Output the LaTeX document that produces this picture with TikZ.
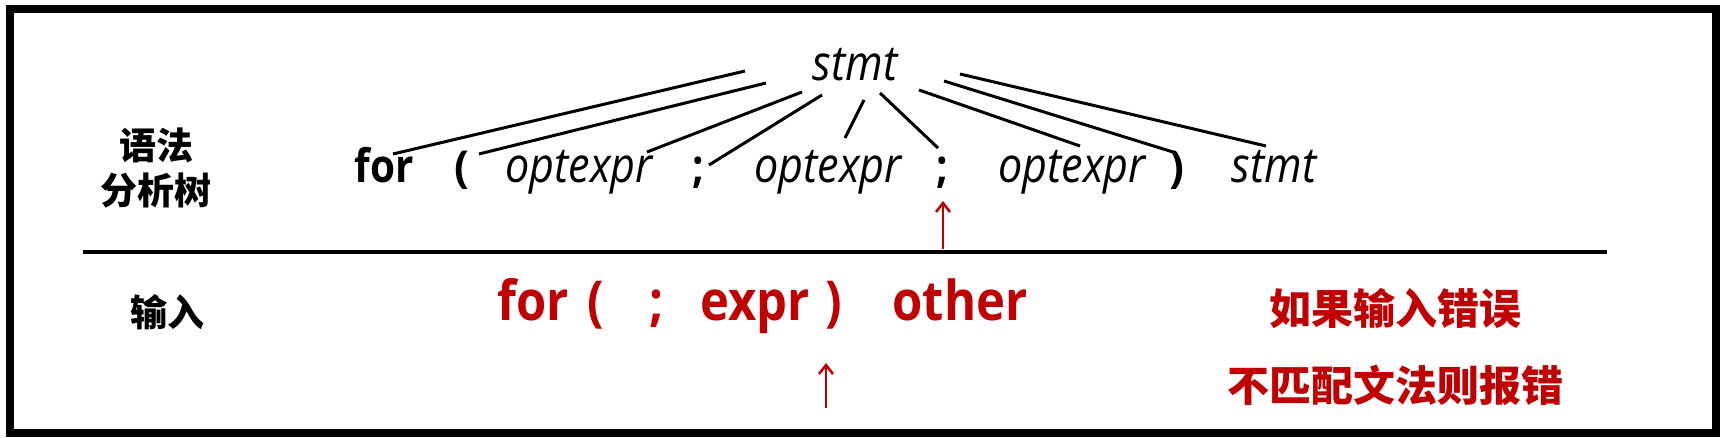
\documentclass[tikz,border=0pt]{standalone}
\usepackage{fontspec}
\setmainfont{Open Sans}
\newfontfamily\narrowfam{Open Sans}[FakeStretch=0.88]
\newfontfamily\narrowkw{Open Sans}[FakeStretch=0.88]
\newfontfamily\narrowred{Open Sans}[FakeStretch=0.89]
\newfontfamily\cjk{Noto Sans CJK SC}
\usetikzlibrary{arrows.meta}
\definecolor{dred}{RGB}{192,0,0}
\begin{document}
\begin{tikzpicture}[x=1pt,y=-1pt,
  sym/.style={anchor=base, inner sep=0pt, font=\narrowfam\fontsize{49}{58}\selectfont\itshape},
  kw/.style={anchor=base, inner sep=0pt, font=\narrowkw\fontsize{46}{54}\selectfont\bfseries},
  pun/.style={anchor=base, inner sep=0pt, font=\fontsize{44}{52}\selectfont\bfseries},
  rin/.style={anchor=base, inner sep=0pt, text=dred, font=\narrowred\fontsize{55}{64}\selectfont\bfseries},
  lab/.style={inner sep=0pt, font=\fontsize{37}{44}\selectfont\cjk\bfseries},
  msg/.style={inner sep=0pt, text=dred, font=\fontsize{42}{50}\selectfont\cjk\bfseries},
  edge/.style={line width=3pt},
  ptr/.style={dred, line width=2.5pt, -{Straight Barb[length=9pt,width=14pt]}},
  frame/.style={line width=8pt},
  rule/.style={line width=4.5pt}
]
\useasboundingbox (0,0) rectangle (1730,438);
\draw[frame] (9.5,9.5) rectangle (1716,433);
\coordinate (ruleL) at (83,252);
\coordinate (ruleR) at (1607,252);
\draw[rule] (ruleL) -- (ruleR);

% labels
\node[lab] (l1) at (156,145) {语法};
\node[lab] (l2) at (156,190) {分析树};
\node[lab] (l3) at (167,312) {输入};

% parse tree
\node[sym] (root) at (855,81) {stmt};
\node[kw]  (c1) at (384,183) {for};
\node[pun] (c2) at (462,183) {(};
\node[sym] (c3) at (579,183) {optexpr};
\node[kw]  (c4) at (698,183) {;};
\node[sym] (c5) at (828,183) {optexpr};
\node[kw]  (c6) at (942,183) {;};
\node[sym] (c7) at (1072,183) {optexpr};
\node[pun] (c8) at (1177,183) {)};
\node[sym] (c9) at (1274,183) {stmt};

\coordinate (e1a) at (745,71);  \coordinate (e1b) at (393,154);
\coordinate (e2a) at (766,83);  \coordinate (e2b) at (479,154);
\coordinate (e3a) at (802,92);  \coordinate (e3b) at (647,152);
\coordinate (e4a) at (822,95);  \coordinate (e4b) at (709,165);
\coordinate (e5a) at (864,100); \coordinate (e5b) at (845,138);
\coordinate (e6a) at (880,93);  \coordinate (e6b) at (938,148);
\coordinate (e7a) at (919,90);  \coordinate (e7b) at (1080,146);
\coordinate (e8a) at (944,81);  \coordinate (e8b) at (1173,152);
\coordinate (e9a) at (960,74);  \coordinate (e9b) at (1266,146);
\foreach \i in {1,...,9} \draw[edge] (e\i a) -- (e\i b);

% input
\node[rin] (r1) at (533,321) {for};
\node[rin] (r2) at (596,321) {(};
\node[rin] (r3) at (657,321) {;};
\node[rin] (r4) at (755,321) {expr};
\node[rin] (r5) at (834,321) {)};
\node[rin] (r6) at (960,321) {other};

\node[msg] (m1) at (1395,308) {如果输入错误};
\node[msg] (m2) at (1395,385) {不匹配文法则报错};

% pointers
\coordinate (p1t) at (943,249); \coordinate (p1h) at (943,201);
\coordinate (p2t) at (826,408); \coordinate (p2h) at (826,363);
\draw[ptr] (p1t) -- (p1h);
\draw[ptr] (p2t) -- (p2h);
\end{tikzpicture}
\end{document}
